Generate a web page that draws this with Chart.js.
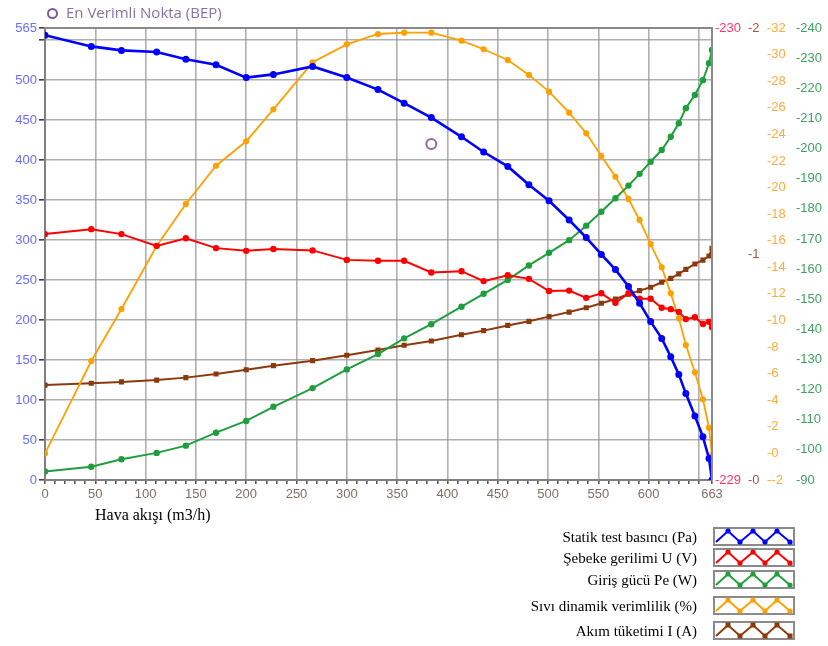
<!DOCTYPE html>
<html>
<head>
<meta charset="utf-8">
<script src="https://cdn.jsdelivr.net/npm/chart.js@4"></script>
<style>
  body { margin: 0; background: #fff; }
  #wrap { position: relative; width: 828px; height: 646px; }
  #bep { position: absolute; left: 47px; top: 2px; font: 15px "Open Sans", sans-serif; color: #8a70a8; }
  #bep span.c { display: inline-block; width: 7px; height: 7px; border: 2.5px solid #7a5a9a; border-radius: 50%; margin-right: 8px; vertical-align: -1px; }
  #xtitle { position: absolute; left: 95px; top: 506px; font: 16px "Liberation Serif", serif; color: #000; }
  .lg { position: absolute; left: 400px; width: 395px; height: 20px; }
  .lg .t { position: absolute; right: 98px; top: 0; font: 15px "Liberation Serif", serif; line-height: 20px; color: #000; white-space: nowrap; }
  .lg svg { position: absolute; left: 313px; top: 0; }
</style>
</head>
<body>
<div id="wrap">
  <canvas id="chart" width="828" height="646"></canvas>
  <div id="bep"><span class="c"></span>En Verimli Nokta (BEP)</div>
  <div id="xtitle">Hava akışı (m3/h)</div>
  <div id="legend"></div>
</div>
<script>
// hava akisi (m3/h) - ortak x noktalari
const airflow = [0, 46, 76, 111, 140, 170, 200, 227, 266, 300, 331, 357, 384, 414, 436, 460, 481, 501, 521, 538, 553, 567, 580, 591, 602, 613, 622, 630, 637, 646, 654, 660, 663];

const staticPressure = [556, 542, 537, 535, 526, 519, 503, 507, 517, 503, 488, 471, 453, 429, 410, 392, 369, 349, 325, 303, 282, 263, 242, 221, 198, 177, 154, 132, 108, 80, 54, 27, 0];
const voltage = [229.544, 229.555, 229.544, 229.518, 229.535, 229.513, 229.507, 229.511, 229.508, 229.487, 229.485, 229.485, 229.459, 229.462, 229.440, 229.453, 229.445, 229.418, 229.419, 229.403, 229.413, 229.392, 229.413, 229.401, 229.401, 229.381, 229.378, 229.372, 229.356, 229.360, 229.345, 229.350, 229.338];
const inputPower = [92.8, 94.4, 96.9, 99.0, 101.4, 105.7, 109.6, 114.3, 120.5, 126.7, 131.8, 137.0, 141.7, 147.5, 151.8, 156.4, 161.2, 165.4, 169.6, 174.4, 179.0, 183.5, 187.7, 191.6, 195.6, 199.5, 203.9, 208.4, 213.4, 217.8, 222.7, 228.3, 232.7];
const efficiency = [0.0, 6.95, 10.86, 15.6, 18.76, 21.64, 23.48, 25.88, 29.42, 30.77, 31.55, 31.65, 31.65, 31.05, 30.40, 29.59, 28.47, 27.21, 25.63, 24.08, 22.37, 20.81, 19.14, 17.56, 15.75, 14.0, 12.04, 10.16, 8.15, 6.1, 4.07, 1.93, -0.12];
const current = [0.420, 0.428, 0.434, 0.442, 0.453, 0.469, 0.488, 0.506, 0.528, 0.552, 0.575, 0.596, 0.615, 0.643, 0.661, 0.684, 0.702, 0.723, 0.743, 0.762, 0.782, 0.801, 0.822, 0.838, 0.853, 0.875, 0.892, 0.912, 0.932, 0.956, 0.973, 0.991, 1.025];

const bepPoint = { x: 384, y: 420 };

// eksen tikleri
const xMajorTicks = [0, 50, 100, 150, 200, 250, 300, 350, 400, 450, 500, 550, 600, 663];
const yLeftTicks = [0, 50, 100, 150, 200, 250, 300, 350, 400, 450, 500, 550, 565];

const legendItems = [
  { label: 'Statik test basıncı (Pa)', color: '#0000ff', style: 'circle', top: 527 },
  { label: 'Şebeke gerilimi U (V)', color: '#ff0000', style: 'circle', top: 548 },
  { label: 'Giriş gücü Pe (W)', color: '#1f9e3c', style: 'circle', top: 570 },
  { label: 'Sıvı dinamik verimlilik (%)', color: '#ffa000', style: 'circle', top: 596 },
  { label: 'Akım tüketimi I (A)', color: '#8b3a0e', style: 'rect', top: 621 }
];

function pairs(ys) {
  return airflow.map((x, i) => ({ x: x, y: ys[i] }));
}

function series(label, ys, color, axis, width, style) {
  return {
    label: label,
    data: pairs(ys),
    yAxisID: axis,
    borderColor: color,
    backgroundColor: color,
    borderWidth: width,
    pointRadius: 2.2,
    pointStyle: style || 'circle',
    tension: 0
  };
}

const frame = {
  id: 'frame',
  afterDatasetsDraw(chart) {
    const a = chart.chartArea, ctx = chart.ctx;
    ctx.save();
    ctx.strokeStyle = '#8a8a8a';
    ctx.lineWidth = 2;
    ctx.beginPath();
    ctx.moveTo(a.left, a.top);
    ctx.lineTo(a.right, a.top);
    ctx.lineTo(a.right, a.bottom);
    ctx.stroke();
    ctx.restore();
  }
};

const gridGray = 'rgba(150,150,150,0.75)';
const tickFont = { family: 'Liberation Sans', size: 13 };

function rightAxis(min, max, step, color, width, pad) {
  return {
    type: 'linear',
    position: 'right',
    min: min,
    max: max,
    afterBuildTicks: axis => {
      const t = [];
      for (let v = min; v <= max + 1e-9; v += step) t.push({ value: +v.toFixed(3) });
      axis.ticks = t;
    },
    afterFit: axis => { axis.width = width; },
    grid: { display: false, drawTicks: false },
    border: { display: false },
    ticks: {
      color: color,
      font: tickFont,
      padding: pad,
      autoSkip: false,
      callback: v => '-' + v
    }
  };
}

new Chart(document.getElementById('chart'), {
  type: 'line',
  data: {
    datasets: [
      series('Statik test basıncı (Pa)', staticPressure, '#0000ff', 'y', 2.6),
      series('Şebeke gerilimi U (V)', voltage, '#ff0000', 'yV', 2),
      series('Giriş gücü Pe (W)', inputPower, '#1f9e3c', 'yW', 2),
      series('Sıvı dinamik verimlilik (%)', efficiency, '#ffa000', 'yE', 1.8),
      series('Akım tüketimi I (A)', current, '#8b3a0e', 'yA', 2, 'rect'),
      {
        label: 'En Verimli Nokta (BEP)',
        data: [bepPoint],
        yAxisID: 'y',
        showLine: false,
        pointRadius: 5,
        pointBorderWidth: 2,
        pointBorderColor: '#8a6aa8',
        pointBackgroundColor: 'rgba(0,0,0,0)'
      }
    ]
  },
  options: {
    responsive: false,
    animation: false,
    devicePixelRatio: 1,
    layout: { padding: { top: 28, bottom: 136, left: 0, right: 0 } },
    plugins: { legend: { display: false }, tooltip: { enabled: false } },
    scales: {
      x: {
        type: 'linear',
        min: 0,
        max: 663,
        afterBuildTicks: axis => {
          const t = [];
          for (let v = 0; v <= 650; v += 10) t.push({ value: v });
          t.push({ value: 663 });
          axis.ticks = t;
        },
        afterFit: axis => { axis.height = 30; },
        grid: {
          color: c => (c.tick && (c.tick.value % 50 === 0) && c.tick.value !== 0) ? gridGray : 'rgba(0,0,0,0)',
          lineWidth: 1.6,
          tickColor: '#555',
          tickLength: 4,
          drawOnChartArea: true
        },
        border: { display: true, color: '#808080', width: 2 },
        ticks: {
          color: '#7f7060',
          font: tickFont,
          padding: 3,
          autoSkip: false,
          maxRotation: 0,
          callback: v => xMajorTicks.includes(v) ? String(v) : ''
        }
      },
      y: {
        type: 'linear',
        position: 'left',
        min: 0,
        max: 565,
        afterBuildTicks: axis => { axis.ticks = yLeftTicks.map(v => ({ value: v })); },
        afterFit: axis => { axis.width = 45; },
        grid: {
          color: c => (c.tick && c.tick.value > 0 && c.tick.value < 565) ? gridGray : 'rgba(0,0,0,0)',
          lineWidth: 1.6,
          tickColor: '#444',
          tickLength: 6
        },
        border: { display: true, color: '#808080', width: 2 },
        ticks: {
          color: '#6a6aff',
          font: tickFont,
          padding: 2,
          autoSkip: false,
          callback: v => v === 550 ? '' : String(v)
        }
      },
      yV: rightAxis(229, 230, 1, '#ff3366', 34, 3),
      yA: rightAxis(0, 2, 1, '#a05a3c', 20, 2),
      yE: rightAxis(-2, 32, 2, '#ffaa40', 28, 1),
      yW: rightAxis(90, 240, 10, '#40a060', 34, 2)
    }
  },
  plugins: [frame]
});

// alt sag lejant
const legendBox = document.getElementById('legend');
legendItems.forEach(item => {
  const row = document.createElement('div');
  row.className = 'lg';
  row.style.top = item.top + 'px';
  const pts = [[3, 15], [15, 4], [27, 15], [40, 4], [52, 15], [64, 4], [77, 15]];
  let marks = '';
  pts.slice(1).forEach(p => {
    marks += item.style === 'rect'
      ? `<rect x="${p[0] - 2.5}" y="${p[1] - 2.5}" width="5" height="5" fill="${item.color}"/>`
      : `<circle cx="${p[0]}" cy="${p[1]}" r="2.6" fill="${item.color}"/>`;
  });
  row.innerHTML = `<span class="t">${item.label}</span>` +
    `<svg width="82" height="19"><rect x="1" y="1" width="80" height="17" fill="#fff" stroke="#8a8a8a" stroke-width="2"/>` +
    `<polyline points="${pts.map(p => p.join(',')).join(' ')}" fill="none" stroke="${item.color}" stroke-width="2"/>${marks}</svg>`;
  legendBox.appendChild(row);
});
</script>
</body>
</html>
